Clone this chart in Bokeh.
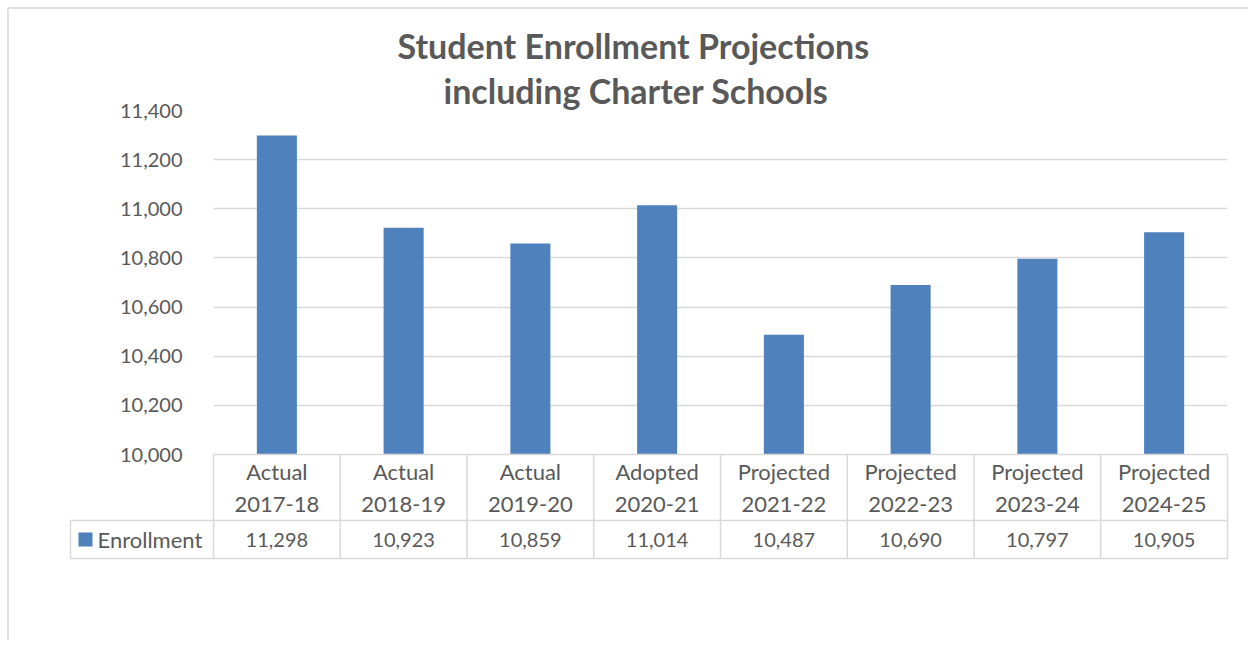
from bokeh.plotting import figure
from bokeh.models import (FactorRange, Range1d, FixedTicker, NumeralTickFormatter,
                          Title, ColumnDataSource)
from bokeh.core.properties import value
from bokeh.embed import file_html
from bokeh.resources import INLINE

# ---------------- data ----------------
statuses = ["Actual", "Actual", "Actual", "Adopted",
            "Projected", "Projected", "Projected", "Projected"]
years = ["2017-18", "2018-19", "2019-20", "2020-21",
         "2021-22", "2022-23", "2023-24", "2024-25"]
enrollment = [11298, 10923, 10859, 11014, 10487, 10690, 10797, 10905]
y_ticks = [10000, 10200, 10400, 10600, 10800, 11000, 11200, 11400]
series_name = "Enrollment"
title_lines = ["Student Enrollment Projections", "including Charter Schools"]

categories = [f"{s}\n{y}" for s, y in zip(statuses, years)]
value_labels = [f"{v:,}" for v in enrollment]

# ---------------- style ----------------
FONT = "Lato"
GRAY = "#595959"
LINE = "#D9D9D9"
BLUE = "#4F81BD"

W, H = 1248, 640
FL, FR, FT, FB = 213, 21, 110, 186
FW = W - FL - FR
FH = H - FT - FB
HEADER_H, ROW_H, LEGEND_W = 66, 38, 143
n = len(categories)
COL = FW / n          # pixel width of one category column


def cx(px):
    """pixel offset from frame left -> categorical synthetic x"""
    return px / COL


p = figure(width=W, height=H,
           x_range=FactorRange(*categories, range_padding=0),
           y_range=Range1d(y_ticks[0], y_ticks[-1]),
           output_backend="svg", toolbar_location=None,
           min_border_left=FL, min_border_right=FR,
           min_border_top=FT, min_border_bottom=FB)
p.extra_y_ranges = {"px": Range1d(0, FH)}
p.outline_line_color = None
p.background_fill_color = "white"
p.border_fill_color = "white"

# titles (first added sits closest to the frame); left offsets centre them
title_offsets = [184, 230]
title_standoffs = [3, 0]
for t, off, so in reversed(list(zip(title_lines, title_offsets, title_standoffs))):
    p.add_layout(Title(text=t, align="left", offset=off,
                       text_font=FONT, text_font_size="34px",
                       text_font_style="bold", text_color=GRAY,
                       standoff=so), "above")

# bars
src = ColumnDataSource(dict(cat=categories, val=enrollment, lab=value_labels))
bars = p.vbar(x="cat", top="val", bottom=y_ticks[0], width=0.316,
              source=src, fill_color=BLUE, line_color=None)

# axes & grid
p.yaxis.ticker = FixedTicker(ticks=y_ticks)
p.yaxis.formatter = NumeralTickFormatter(format="0,0")
p.yaxis.axis_line_color = None
p.yaxis.major_tick_line_color = None
p.yaxis.minor_tick_line_color = None
p.yaxis.major_label_standoff = 25
p.yaxis.major_label_text_font = FONT
p.yaxis.major_label_text_font_size = "20px"
p.yaxis.major_label_text_color = GRAY

p.xaxis.axis_line_color = LINE
p.xaxis.axis_line_width = 1.5
p.xaxis.major_tick_line_color = None
p.xaxis.minor_tick_line_color = None
p.xaxis.major_label_standoff = -3
p.xaxis.major_label_text_font = FONT
p.xaxis.major_label_text_font_size = "22px"
p.xaxis.major_label_text_color = GRAY
p.xaxis.major_label_orientation = "horizontal"

p.xgrid.visible = False
p.ygrid.grid_line_color = LINE
p.ygrid.grid_line_width = 1.5

# ---------------- data table below the plot ----------------
# column separators
p.segment(x0=list(range(n + 1)), x1=list(range(n + 1)),
          y0=[0] * (n + 1), y1=[-(HEADER_H + ROW_H)] * (n + 1),
          y_range_name="px", line_color=LINE, line_width=1.5, level="overlay")
# horizontal rules + legend-cell left edge
p.segment(x0=[cx(-LEGEND_W)] * 3, x1=[n, n, cx(-LEGEND_W)],
          y0=[-HEADER_H, -(HEADER_H + ROW_H), -HEADER_H],
          y1=[-HEADER_H, -(HEADER_H + ROW_H), -(HEADER_H + ROW_H)],
          y_range_name="px", line_color=LINE, line_width=1.5, level="overlay")
# values row
row_y = -(HEADER_H + ROW_H / 2)
p.text(x="cat", y=row_y, text="lab", source=src,
       y_range_name="px", text_align="center", text_baseline="middle",
       text_font=value(FONT), text_font_size="20px", text_color=GRAY,
       level="overlay")
# legend key of the series row (14px square drawn as a thick butt-capped stroke)
p.segment(x0=[cx(-LEGEND_W + 8)], x1=[cx(-LEGEND_W + 22)],
          y0=[row_y], y1=[row_y], y_range_name="px",
          line_color=BLUE, line_width=14, line_cap="butt", level="overlay")
p.text(x=[cx(-LEGEND_W + 27)], y=[row_y], text=[series_name],
       y_range_name="px", text_align="left", text_baseline="middle",
       text_font=value(FONT), text_font_size="22px", text_color=GRAY,
       level="overlay")

# outer chart border (left and top)
bx, by = cx(-FL + 7.5), FH + FT - 7.5
p.segment(x0=[bx, bx], x1=[bx, cx(FW + FR)],
          y0=[by, by], y1=[-FB, by],
          y_range_name="px", line_color=LINE, line_width=1.5, level="overlay")

open("out.html", "w").write(file_html(p, INLINE))
